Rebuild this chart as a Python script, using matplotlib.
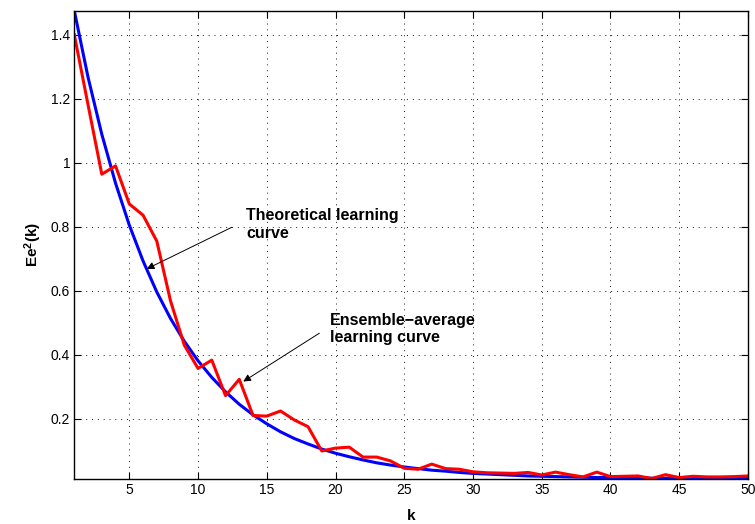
import matplotlib.pyplot as plt
from matplotlib.ticker import FormatStrFormatter

plt.rcParams['font.family'] = ['Liberation Sans', 'DejaVu Sans']
plt.rcParams['font.size'] = 10
plt.rcParams['mathtext.fontset'] = 'custom'
plt.rcParams['mathtext.bf'] = 'Liberation Sans:bold'
plt.rcParams['mathtext.rm'] = 'Liberation Sans'

k = list(range(1, 51))

# theoretical learning curve (blue)
theory = [1.475, 1.267, 1.089, 0.936, 0.805, 0.693, 0.596, 0.513, 0.442, 0.381,
          0.329, 0.284, 0.245, 0.212, 0.184, 0.159, 0.138, 0.121, 0.105, 0.092,
          0.081, 0.071, 0.062, 0.055, 0.049, 0.044, 0.039, 0.036, 0.032, 0.029,
          0.027, 0.025, 0.023, 0.021, 0.020, 0.019, 0.018, 0.017, 0.016, 0.016,
          0.015, 0.015, 0.014, 0.014, 0.014, 0.013, 0.013, 0.013, 0.013, 0.013]

# ensemble-average learning curve (red)
ensemble = [1.400, 1.181, 0.964, 0.990, 0.871, 0.836, 0.755, 0.568, 0.430, 0.357,
            0.383, 0.272, 0.323, 0.210, 0.208, 0.224, 0.196, 0.175, 0.099, 0.108,
            0.111, 0.080, 0.080, 0.068, 0.045, 0.042, 0.058, 0.044, 0.042, 0.034,
            0.031, 0.030, 0.029, 0.032, 0.024, 0.033, 0.025, 0.018, 0.033, 0.019,
            0.020, 0.021, 0.013, 0.025, 0.016, 0.020, 0.018, 0.018, 0.019, 0.021]

xticks = [5, 10, 15, 20, 25, 30, 35, 40, 45, 50]
yticks = [0.2, 0.4, 0.6, 0.8, 1.0, 1.2, 1.4]

fig = plt.figure(figsize=(7.55, 5.24), dpi=100)
ax = fig.add_axes([0.0984, 0.0865, 0.8923, 0.8931])

ax.plot(k, theory, color=(0, 0, 1), lw=2.2)
ax.plot(k, ensemble, color=(1, 0, 0), lw=2.2)

ax.set_xlim(1, 50)
ax.set_ylim(0.0125, 1.475)
ax.set_xticks(xticks)
ax.set_yticks(yticks)
ax.yaxis.set_major_formatter(FormatStrFormatter('%g'))

ax.grid(True, color='black', linestyle=(0, (1, 5)), lw=0.7, alpha=0.9)
ax.tick_params(direction='in', length=5, width=0.8, top=True, right=True,
               colors='black', pad=3)
for s in ax.spines.values():
    s.set_linewidth(1.0)

ax.set_xlabel('k', fontweight='bold', fontsize=11, labelpad=9)
ax.set_ylabel(r'$\mathbf{Ee^2(k)}$', fontsize=11, labelpad=5)

arrow = dict(arrowstyle='-|>', color='black', lw=0.7, mutation_scale=11,
             shrinkA=0, shrinkB=0)

ax.text(13.49, 0.858, 'Theoretical learning\ncurve', fontsize=11.5, fontweight='bold',
        ha='left', va='top', linespacing=1.2)
ax.annotate('', xy=(6.27, 0.668), xytext=(12.45, 0.798), arrowprops=arrow)

ax.text(19.58, 0.530, 'Ensemble\u2212average\nlearning curve', fontsize=11.5,
        fontweight='bold', ha='left', va='top', linespacing=1.2)
ax.annotate('', xy=(13.29, 0.316), xytext=(18.82, 0.467), arrowprops=arrow)

fig.savefig('out.png', dpi=100)
